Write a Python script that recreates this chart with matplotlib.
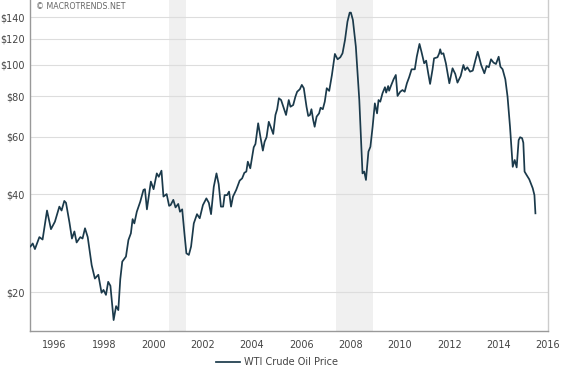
import matplotlib
matplotlib.use('Agg')
import matplotlib.pyplot as plt
from matplotlib.ticker import FixedLocator, NullLocator
import numpy as np

# ____________________________ DATA ____________________________
years = [1995.02, 1995.11, 1995.20, 1995.38, 1995.51, 1995.69, 1995.85, 1996.01, 1996.19, 1996.28,
         1996.39, 1996.46, 1996.60, 1996.70, 1996.80, 1996.89, 1997.04, 1997.13, 1997.23, 1997.34,
         1997.50, 1997.63, 1997.77, 1997.90, 1997.98, 1998.08, 1998.17, 1998.26, 1998.39, 1998.49,
         1998.58, 1998.66, 1998.74, 1998.89, 1998.99, 1999.09, 1999.16, 1999.23, 1999.33, 1999.47,
         1999.60, 1999.66, 1999.74, 1999.90, 2000.01, 2000.14, 2000.22, 2000.33, 2000.41, 2000.54,
         2000.64, 2000.70, 2000.81, 2000.90, 2001.01, 2001.08, 2001.17, 2001.26, 2001.34, 2001.44,
         2001.53, 2001.64, 2001.77, 2001.88, 2002.01, 2002.15, 2002.25, 2002.34, 2002.45, 2002.56,
         2002.65, 2002.74, 2002.83, 2002.89, 2002.99, 2003.07, 2003.15, 2003.23, 2003.36, 2003.50,
         2003.60, 2003.69, 2003.77, 2003.83, 2003.93, 2004.07, 2004.14, 2004.25, 2004.34, 2004.44,
         2004.51, 2004.59, 2004.68, 2004.78, 2004.86, 2004.95, 2005.02, 2005.09, 2005.18, 2005.29,
         2005.38, 2005.49, 2005.56, 2005.67, 2005.76, 2005.83, 2005.94, 2006.02, 2006.10, 2006.21,
         2006.28, 2006.35, 2006.41, 2006.48, 2006.54, 2006.62, 2006.72, 2006.78, 2006.87, 2006.95,
         2007.03, 2007.13, 2007.24, 2007.36, 2007.47, 2007.58, 2007.67, 2007.77, 2007.87, 2007.96,
         2008.01, 2008.09, 2008.21, 2008.35, 2008.48, 2008.55, 2008.62, 2008.72, 2008.80, 2008.89,
         2008.98, 2009.07, 2009.13, 2009.20, 2009.29, 2009.39, 2009.44, 2009.52, 2009.56, 2009.63,
         2009.74, 2009.83, 2009.90, 2010.01, 2010.10, 2010.19, 2010.28, 2010.37, 2010.47, 2010.60,
         2010.68, 2010.79, 2010.87, 2010.98, 2011.06, 2011.14, 2011.22, 2011.32, 2011.38, 2011.52,
         2011.59, 2011.63, 2011.68, 2011.76, 2011.86, 2012.00, 2012.13, 2012.24, 2012.33, 2012.46,
         2012.57, 2012.64, 2012.73, 2012.84, 2012.95, 2013.06, 2013.15, 2013.29, 2013.42, 2013.51,
         2013.60, 2013.69, 2013.79, 2013.89, 2014.00, 2014.07, 2014.16, 2014.27, 2014.36, 2014.46,
         2014.57, 2014.65, 2014.73, 2014.81, 2014.87, 2014.95, 2015.00, 2015.05, 2015.13, 2015.24,
         2015.38, 2015.45, 2015.49]
prices = [27.6, 28.2, 27.1, 29.5, 29.0, 35.6, 31.2, 32.9, 36.6, 35.6,
          38.1, 37.6, 32.7, 29.2, 30.7, 28.4, 29.5, 29.2, 31.4, 29.5,
          24.2, 22.0, 22.6, 19.9, 20.3, 19.6, 21.5, 20.9, 16.4, 18.1,
          17.6, 21.9, 24.8, 25.7, 28.9, 30.3, 33.5, 32.5, 35.3, 37.9,
          41.2, 41.4, 35.9, 43.7, 41.4, 46.3, 45.2, 47.2, 39.3, 40.0,
          36.8, 37.0, 38.4, 36.4, 37.3, 35.3, 35.9, 30.3, 26.3, 26.0,
          27.6, 32.5, 34.7, 33.7, 37.0, 38.8, 37.6, 34.7, 42.1, 46.3,
          42.9, 36.6, 36.6, 39.7, 39.7, 40.7, 36.6, 39.3, 41.2, 44.0,
          44.7, 46.5, 46.9, 50.3, 48.0, 55.7, 57.0, 66.0, 60.0, 54.4,
          57.9, 59.8, 66.7, 63.7, 61.2, 70.0, 72.9, 78.8, 77.8, 73.4,
          70.0, 77.8, 74.2, 75.1, 79.7, 82.5, 84.0, 86.6, 84.6, 74.2,
          69.5, 70.0, 72.9, 67.6, 64.4, 69.2, 70.8, 73.7, 72.9, 76.9,
          84.6, 83.0, 92.9, 107.8, 103.8, 105.3, 108.3, 119.0, 135.5, 144.4,
          144.4, 137.1, 113.5, 77.8, 46.3, 46.9, 44.2, 54.0, 55.9, 64.4,
          76.0, 70.8, 77.8, 76.9, 81.6, 85.2, 82.0, 85.9, 83.1, 85.9,
          90.1, 92.9, 80.1, 82.5, 83.5, 82.5, 87.6, 91.4, 96.7, 96.7,
          105.7, 115.7, 109.5, 100.9, 102.8, 94.4, 87.2, 96.7, 104.5, 105.3,
          108.3, 111.4, 107.8, 108.3, 100.9, 87.6, 97.4, 93.6, 88.0, 92.2,
          99.7, 96.2, 98.1, 95.1, 95.8, 103.3, 109.5, 99.7, 94.0, 99.0,
          98.1, 103.8, 101.4, 100.4, 105.7, 98.5, 96.7, 90.1, 79.7, 64.4,
          48.5, 50.9, 48.3, 58.6, 59.8, 59.4, 57.5, 46.9, 45.8, 44.4,
          41.7, 39.7, 34.9]

recession_start = [2000.62, 2007.42]
recession_end = [2001.31, 2008.91]

ytick_values = [20, 40, 60, 80, 100, 120, 140]
ytick_labels = ['$20', '$40', '$60', '$80', '$100', '$120', '$140']
xtick_years = list(range(1996, 2017, 2))

# ____________________________ PLOT ____________________________
line_color = '#1b3a4b'
text_color = '#444444'

fig = plt.figure(figsize=(5.68, 3.82), dpi=100)
ax = fig.add_axes([30/568, 1 - 331/382, 518/568, 331/382])

for s, e in zip(recession_start, recession_end):
    ax.axvspan(s, e, color='#f0f0f0', lw=0, zorder=0)

ax.plot(years, prices, color=line_color, lw=1.25, label='WTI Crude Oil Price', zorder=3)

ax.set_yscale('log')
ax.set_ylim(15.18, 157.9)
ax.set_xlim(1995.0, 2016.0)

ax.yaxis.set_major_locator(FixedLocator(ytick_values))
ax.yaxis.set_minor_locator(NullLocator())
ax.set_yticklabels(ytick_labels)
ax.set_xticks(xtick_years)
ax.set_xticklabels([str(y) for y in xtick_years])

ax.grid(axis='y', color='#dddddd', lw=0.8, zorder=1)
ax.tick_params(axis='both', length=0, labelsize=7, colors=text_color)
ax.tick_params(axis='x', pad=6.5)
ax.tick_params(axis='y', pad=4)

ax.spines['top'].set_visible(False)
ax.spines['left'].set_color('#999999')
ax.spines['bottom'].set_color('#999999')
ax.spines['right'].set_color('#cccccc')
for side in ['left', 'bottom', 'right']:
    ax.spines[side].set_linewidth(1.0)

ax.text(6/518, 1 - 6.5/331, '\u00a9 MACROTRENDS.NET', transform=ax.transAxes,
        fontsize=5.7, color='#666666', va='center', ha='left')

fig.legend(loc='center', bbox_to_anchor=(277/568, 1 - 362/382), frameon=False,
           fontsize=7, handlelength=2.5, handletextpad=0.4, labelcolor=text_color)

fig.savefig('out.png', dpi=100)
